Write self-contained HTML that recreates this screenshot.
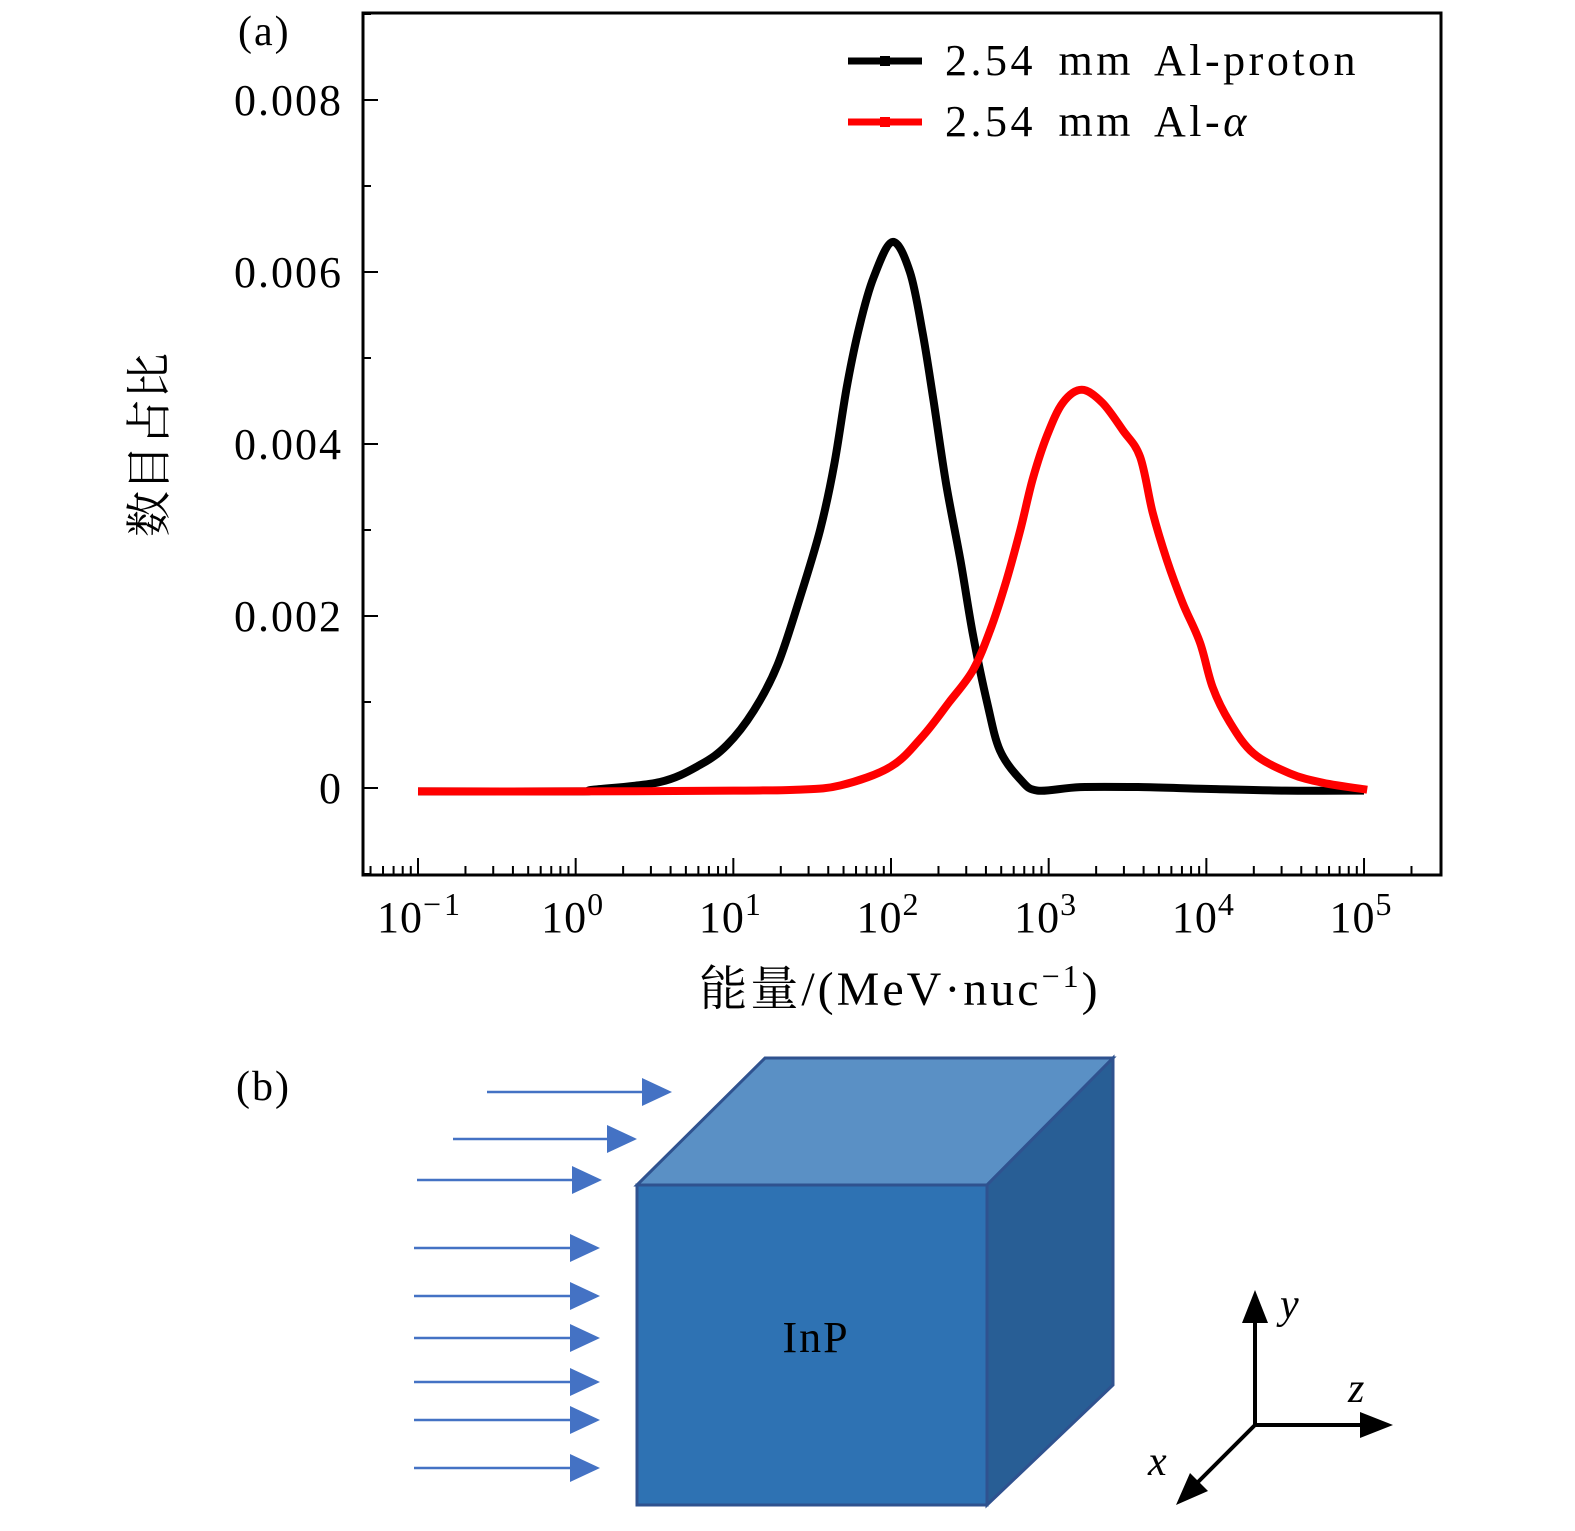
<!DOCTYPE html>
<html><head><meta charset="utf-8"><style>
body{margin:0;background:#fff}
svg text{font-family:"Liberation Serif","Noto Serif CJK SC",serif}
</style></head><body>
<svg id="s" width="1575" height="1526" viewBox="0 0 1575 1526" xmlns="http://www.w3.org/2000/svg">
<text x="238" y="45" font-size="42" letter-spacing="2">(a)</text>
<g id="plot"></g>
<text x="900" y="1005" font-size="48" letter-spacing="3" text-anchor="middle">能量/(MeV·nuc<tspan font-size="32" dy="-18">−1</tspan><tspan dy="18">)</tspan></text>
<text transform="translate(165,445) rotate(-90)" font-size="46" text-anchor="middle">数目占比</text>
<g>
<g><line x1="848" y1="61" x2="922" y2="61" stroke="#000" stroke-width="7"/><rect x="880" y="56" width="10" height="10" fill="#000"/><text x="945" y="75" font-size="44" letter-spacing="3.5" word-spacing="8">2.54 mm Al-proton</text></g>
<g><line x1="848" y1="122" x2="922" y2="122" stroke="#f00" stroke-width="7"/><rect x="880" y="117" width="10" height="10" fill="#f00"/><text x="945" y="136" font-size="44" letter-spacing="3.5" word-spacing="8">2.54 mm Al-<tspan font-style="italic">α</tspan></text></g>
</g>
<text x="236" y="1100" font-size="42" letter-spacing="2">(b)</text>
<g id="arrows"></g>
<g stroke="#2F528F" stroke-width="3">
<polygon points="637,1185 765,1058 1113,1058 987,1185" fill="#5A90C5"/>
<polygon points="987,1185 1113,1058 1113,1385 987,1505" fill="#285E95"/>
<rect x="637" y="1185" width="350" height="320" fill="#2E72B3"/>
</g>
<text x="816" y="1352" font-size="44" letter-spacing="2" text-anchor="middle">InP</text>
<g stroke="#000" stroke-width="4" fill="#000">
<line x1="1255" y1="1425" x2="1255" y2="1310"/><polygon points="1255,1290 1242,1323 1268,1323" stroke="none"/>
<line x1="1255" y1="1425" x2="1370" y2="1425"/><polygon points="1393,1425 1360,1412 1360,1438" stroke="none"/>
<line x1="1255" y1="1425" x2="1192" y2="1488"/><polygon points="1176,1505 1190,1473 1208,1491" stroke="none"/>
</g>
<text x="1280" y="1318" font-size="42" font-style="italic">y</text>
<text x="1348" y="1402" font-size="42" font-style="italic">z</text>
<text x="1148" y="1475" font-size="42" font-style="italic">x</text>
</svg>
<script>
var logE=[-1,0,0.11,0.535,0.79,0.96,1.13,1.28,1.42,1.55,1.64,1.72,1.80,1.89,2.01,2.12,2.20,2.27,2.35,2.44,2.52,2.61,2.69,2.82,2.93,3.2,3.6,4.0,4.5,5.0];
var proton=[-0.00004,-0.00004,-0.00002,0.00007,0.00027,0.0005,0.0009,0.00143,0.0022,0.003,0.00376,0.00467,0.00537,0.00594,0.00635,0.006,0.0053,0.0045,0.00353,0.00265,0.00178,0.00099,0.00044,0.0001,-0.00003,0.00001,0.00001,-0.00001,-0.00003,-0.00003];
var logEa=[-1,0,1,1.4,1.68,2.0,2.2,2.37,2.52,2.63,2.73,2.82,2.9,2.99,3.09,3.21,3.34,3.47,3.58,3.66,3.75,3.85,3.96,4.04,4.15,4.3,4.53,4.74,5.02];
var alpha=[-0.00004,-0.00004,-0.00003,-0.00002,0.00003,0.00025,0.0006,0.001,0.00137,0.00184,0.0024,0.003,0.0036,0.0041,0.00448,0.00463,0.00448,0.00416,0.00385,0.0032,0.00265,0.00215,0.00169,0.00117,0.00076,0.0004,0.00017,0.00006,-0.00002];
var yTicks=[0,0.002,0.004,0.006,0.008];
var yTickLabels=["0","0.002","0.004","0.006","0.008"];
var xDecades=[-1,0,1,2,3,4,5];
var NS="http://www.w3.org/2000/svg";
function X(l){return 418+(l+1)*157.67;}
function Y(v){return 788-v*86000;}
function el(t,a,p){var e=document.createElementNS(NS,t);for(var k in a)e.setAttribute(k,a[k]);p.appendChild(e);return e;}
var g=document.getElementById('plot');
var fr=el('rect',{x:363,y:13,width:1078,height:862,fill:'none',stroke:'#000','stroke-width':3},g);


yTicks.forEach(function(v,i){
 var t=el('line',{x1:363,x2:378,y1:Y(v),y2:Y(v),stroke:'#000','stroke-width':2},g);
 
 
 var m=el('line',{x1:363,x2:371,y1:Y(v+0.001),y2:Y(v+0.001),stroke:'#000','stroke-width':2},g);
 
 
 var tx=el('text',{x:343,y:Y(v)+15,'font-size':44,'letter-spacing':2,'text-anchor':'end'},g);tx.textContent=yTickLabels[i];
 
 
});
var mm=el('line',{x1:363,x2:371,y1:Y(-0.001),y2:Y(-0.001),stroke:'#000','stroke-width':2},g);
for(var d=-2;d<=5;d++){for(var k=1;k<=9;k++){var l=d+Math.log10(k);var px=X(l);if(px<366||px>1438)continue;
 var t=el('line',{x1:px,x2:px,y1:875,y2:k==1?858:866,stroke:'#000','stroke-width':2},g);
 
 }}
xDecades.forEach(function(dd){
 var tx=el('text',{x:X(dd)+(dd<0?2:-2),y:932,'font-size':44,'letter-spacing':1,'text-anchor':'middle'},g);
 tx.innerHTML='10<tspan font-size="32" dy="-17" letter-spacing="3">'+(dd<0?'−'+(-dd):dd)+'</tspan>';
 
 
});
function series(xs,ys,c,n){
 var P=xs.map(function(x,i){return [X(x),Y(ys[i])];});
 var dstr='M'+P[0][0].toFixed(1)+','+P[0][1].toFixed(1);
 for(var i=0;i<P.length-1;i++){
  var p0=P[Math.max(0,i-1)],p1=P[i],p2=P[i+1],p3=P[Math.min(P.length-1,i+2)];
  var c1=[p1[0]+(p2[0]-p0[0])/6,p1[1]+(p2[1]-p0[1])/6];
  var c2=[p2[0]-(p3[0]-p1[0])/6,p2[1]-(p3[1]-p1[1])/6];
  dstr+=' C'+c1[0].toFixed(1)+','+c1[1].toFixed(1)+' '+c2[0].toFixed(1)+','+c2[1].toFixed(1)+' '+p2[0].toFixed(1)+','+p2[1].toFixed(1);
 }
 var pl=el('path',{d:dstr,fill:'none',stroke:c,'stroke-width':8,'stroke-linejoin':'round'},g);
 
 }
series(logE,proton,'#000','line-proton');
series(logEa,alpha,'#f00','line-alpha');
var ar=document.getElementById('arrows');
var arrowYs=[1092,1139,1180,1248,1296,1338,1382,1420,1468];
var arrowX0=[487,453,417,414,414,414,414,414,414];
var arrowX1=[672,637,602,600,600,600,600,600,600];
arrowYs.forEach(function(y,i){
 el('line',{x1:arrowX0[i],x2:arrowX1[i]-28,y1:y,y2:y,stroke:'#4472C4','stroke-width':2.5},ar);
 var h=el('polygon',{points:(arrowX1[i])+','+y+' '+(arrowX1[i]-30)+','+(y-14)+' '+(arrowX1[i]-30)+','+(y+14),fill:'#4472C4'},ar);
 
 
});
</script>
</body></html>
